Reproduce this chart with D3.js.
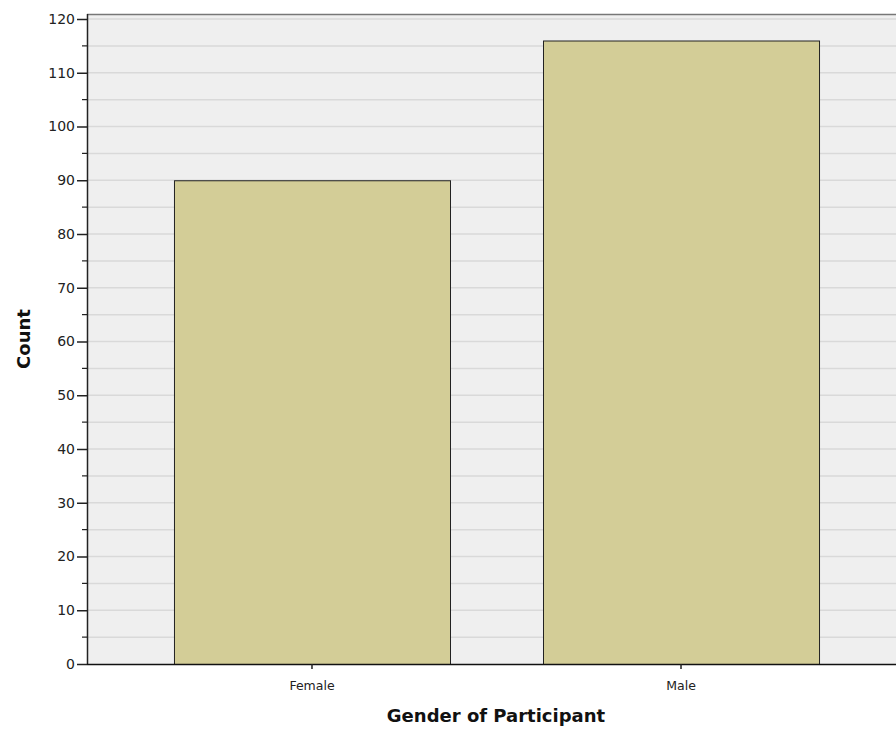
<!DOCTYPE html>
<html><head><meta charset="utf-8">
<script src="https://cdn.jsdelivr.net/npm/d3@7"></script>
<style>body{margin:0;background:#fff}svg{display:block}</style>
</head><body>
<script>
const categories = ["Female", "Male"];
const counts = [90, 116];
const yTicks = [0,10,20,30,40,50,60,70,80,90,100,110,120];
const yMinor = [5,15,25,35,45,55,65,75,85,95,105,115];

const W = 896, H = 731;
const svg = d3.select("body").append("svg").attr("width", W).attr("height", H);
const pLeft = 87, pRight = 906, pTop = 14, zeroY = 664;
const y = d3.scaleLinear().domain([0,120]).range([zeroY, 19]);
const x = d3.scaleBand().domain(categories).range([pLeft, pRight]).paddingInner(0.252).paddingOuter(0.2357);

svg.append("rect").attr("x", pLeft).attr("y", pTop).attr("width", pRight-pLeft).attr("height", zeroY-pTop).attr("fill", "#efefef");
const grid = [...yTicks.filter(d=>d>0), ...yMinor];
svg.selectAll("line.grid").data(grid).enter().append("line")
  .attr("x1", pLeft).attr("x2", pRight).attr("y1", d=>y(d)).attr("y2", d=>y(d))
  .attr("stroke", "#d9d9d9").attr("stroke-width", 1.5);
svg.append("line").attr("x1", pLeft).attr("x2", pRight).attr("y1", pTop+0.5).attr("y2", pTop+0.5).attr("stroke", "#777").attr("stroke-width", 1.5);

svg.selectAll("rect.bar").data(categories).enter().append("rect")
  .attr("x", d=>x(d)+0.5).attr("y", (d,i)=>y(counts[i])+0.5)
  .attr("width", x.bandwidth()).attr("height", (d,i)=>zeroY - y(counts[i]))
  .attr("fill", "#d3cd97").attr("stroke", "#222").attr("stroke-width", 1);

const yAxis = d3.axisLeft(y).tickValues(yTicks).tickSize(10).tickPadding(2).tickFormat(d3.format("d"));
const yg = svg.append("g").attr("transform", `translate(${pLeft},0)`).call(yAxis);
yg.select(".domain").attr("stroke", "#222").attr("stroke-width", 1.5).attr("d", `M0.5,${pTop}V${zeroY}`);
yg.selectAll(".tick line").attr("stroke", "#222").attr("stroke-width", 1.5);
yg.selectAll("text").attr("font-family", "'DejaVu Sans', sans-serif").attr("font-size", 14).attr("fill", "#222");
svg.selectAll("line.minor").data(yMinor).enter().append("line")
  .attr("x1", pLeft-5).attr("x2", pLeft).attr("y1", d=>y(d)).attr("y2", d=>y(d))
  .attr("stroke", "#222").attr("stroke-width", 1.2);

const xAxis = d3.axisBottom(x).tickSize(5).tickPadding(12);
const xg = svg.append("g").attr("transform", `translate(0,${zeroY})`).call(xAxis);
xg.select(".domain").attr("stroke", "#111").attr("stroke-width", 1.5).attr("d", `M${pLeft},0.5H${pRight}`);
xg.selectAll(".tick line").attr("stroke", "#222").attr("stroke-width", 1.5);
xg.selectAll("text").attr("font-family", "'DejaVu Sans', sans-serif").attr("font-size", 12.5).attr("fill", "#222");

svg.append("text").attr("x", 496).attr("y", 722).attr("text-anchor", "middle")
  .attr("font-family", "'DejaVu Sans', sans-serif").attr("font-weight", "bold").attr("font-size", 18).attr("fill", "#111")
  .text("Gender of Participant");
svg.append("text").attr("transform", `translate(30,339) rotate(-90)`).attr("text-anchor", "middle")
  .attr("font-family", "'DejaVu Sans', sans-serif").attr("font-weight", "bold").attr("font-size", 18).attr("fill", "#111")
  .text("Count");
</script>
</body></html>
